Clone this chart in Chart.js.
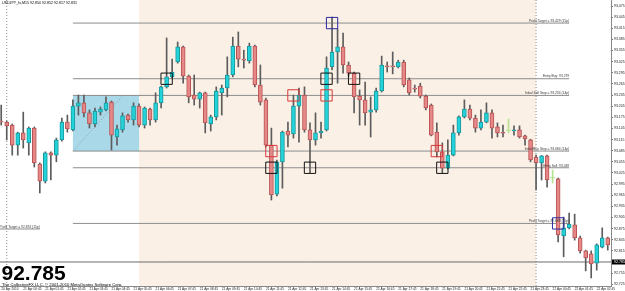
<!DOCTYPE html>
<html>
<head>
<meta charset="utf-8">
<title>USDJPY M15</title>
<script src="https://cdn.jsdelivr.net/npm/chart.js@4.4.0/dist/chart.umd.min.js"></script>
<style>
  html, body { margin: 0; padding: 0; background: #fff; overflow: hidden; }
  #chart { display: block; }
</style>
</head>
<body>
<canvas id="chart" width="625" height="291"></canvas>
<script>
/* USDJPY M15 — breakout box chart (20-22 Apr 2010) */

// ---- data ----
const symbolName = 'USDJPY_fx,M15';
const firstBar = -1;   // bar 0 = 21 Apr 00:00, one bar every 15 min

const opens = [
  93.165, 93.162, 93.154, 93.100, 93.133, 93.106, 93.146, 93.049, 93.003, 93.079,
  93.073, 93.114, 93.162, 93.141, 93.205, 93.214, 93.187, 93.157, 93.189, 93.195,
  93.216, 93.122, 93.141, 93.181, 93.168, 93.205, 93.154, 93.197, 93.168, 93.214,
  93.257, 93.284, 93.324, 93.365, 93.286, 93.235, 93.224, 93.241, 93.157, 93.176,
  93.241, 93.254, 93.289, 93.367, 93.332, 93.327, 93.367, 93.262, 93.222, 93.100,
  92.968, 93.055, 93.138, 93.130, 93.205, 93.235, 93.141, 93.114, 93.133, 93.141,
  93.311, 93.351, 93.365, 93.316, 93.294, 93.232, 93.222, 93.189, 93.195, 93.246,
  93.313, 93.313, 93.311, 93.324, 93.276, 93.254, 93.259, 93.232, 93.208, 93.135,
  93.082, 93.038, 93.073, 93.133, 93.176, 93.197, 93.173, 93.146, 93.162, 93.187,
  93.149, 93.133, 93.138, 93.138, 93.141, 93.125, 93.114, 93.068, 93.052, 93.071,
  93.011, 93.009, 92.855, 92.877, 92.885, 92.850, 92.815, 92.807, 92.782, 92.825,
  92.850
];
const highs = [
  93.208, 93.165, 93.157, 93.135, 93.189, 93.149, 93.149, 93.052, 93.082, 93.082,
  93.119, 93.173, 93.181, 93.222, 93.235, 93.235, 93.195, 93.200, 93.203, 93.230,
  93.219, 93.154, 93.187, 93.184, 93.214, 93.211, 93.203, 93.200, 93.241, 93.259,
  93.389, 93.332, 93.378, 93.367, 93.289, 93.289, 93.243, 93.243, 93.181, 93.257,
  93.262, 93.338, 93.391, 93.405, 93.356, 93.375, 93.370, 93.316, 93.227, 93.146,
  93.060, 93.138, 93.162, 93.235, 93.254, 93.257, 93.160, 93.187, 93.162, 93.338,
  93.445, 93.413, 93.402, 93.324, 93.297, 93.249, 93.270, 93.230, 93.254, 93.340,
  93.324, 93.351, 93.329, 93.329, 93.281, 93.262, 93.267, 93.235, 93.211, 93.160,
  93.106, 93.114, 93.154, 93.179, 93.222, 93.208, 93.181, 93.195, 93.214, 93.195,
  93.160, 93.154, 93.170, 93.152, 93.152, 93.127, 93.116, 93.073, 93.072, 93.073,
  93.033, 93.011, 92.906, 92.917, 92.914, 92.855, 92.817, 92.815, 92.834, 92.877,
  92.852
];
const lows = [
  93.154, 93.114, 93.073, 93.073, 93.092, 93.073, 93.041, 92.971, 92.998, 93.006,
  93.055, 93.111, 93.135, 93.138, 93.181, 93.176, 93.146, 93.149, 93.181, 93.192,
  93.087, 93.100, 93.135, 93.162, 93.154, 93.149, 93.146, 93.154, 93.162, 93.200,
  93.254, 93.281, 93.321, 93.267, 93.214, 93.208, 93.200, 93.133, 93.138, 93.168,
  93.181, 93.230, 93.284, 93.311, 93.308, 93.321, 93.257, 93.208, 93.095, 92.952,
  92.963, 92.984, 93.095, 93.119, 93.108, 93.135, 93.025, 93.100, 93.119, 93.138,
  93.303, 93.267, 93.294, 93.286, 93.187, 93.154, 93.154, 93.122, 93.189, 93.243,
  93.297, 93.292, 93.308, 93.257, 93.235, 93.243, 93.227, 93.195, 93.125, 93.068,
  93.025, 93.036, 93.071, 93.127, 93.173, 93.168, 93.135, 93.141, 93.160, 93.119,
  93.122, 93.122, 93.133, 93.127, 93.119, 93.100, 93.055, 92.979, 93.006, 92.987,
  92.998, 92.839, 92.799, 92.874, 92.844, 92.809, 92.761, 92.742, 92.763, 92.823,
  92.817
];
const closes = [
  93.162, 93.152, 93.100, 93.133, 93.114, 93.146, 93.052, 93.003, 93.079, 93.073,
  93.114, 93.162, 93.144, 93.205, 93.214, 93.187, 93.157, 93.192, 93.197, 93.214,
  93.127, 93.144, 93.179, 93.168, 93.205, 93.154, 93.200, 93.168, 93.214, 93.257,
  93.284, 93.297, 93.365, 93.286, 93.230, 93.224, 93.241, 93.160, 93.176, 93.246,
  93.254, 93.289, 93.367, 93.332, 93.329, 93.367, 93.262, 93.216, 93.100, 92.966,
  93.055, 93.135, 93.127, 93.205, 93.235, 93.141, 93.114, 93.133, 93.138, 93.308,
  93.351, 93.365, 93.316, 93.294, 93.230, 93.222, 93.187, 93.195, 93.246, 93.316,
  93.311, 93.311, 93.324, 93.262, 93.241, 93.251, 93.232, 93.200, 93.127, 93.082,
  93.038, 93.073, 93.133, 93.176, 93.197, 93.173, 93.146, 93.162, 93.187, 93.146,
  93.133, 93.132, 93.138, 93.141, 93.122, 93.117, 93.060, 93.052, 93.071, 93.006,
  93.011, 92.858, 92.877, 92.887, 92.850, 92.815, 92.796, 92.780, 92.831, 92.850,
  92.831
];

// time axis: one label per hour
const tickBars = [-1, 3, 7, 11, 15, 19, 23, 27, 31, 35, 39, 43, 47, 51, 55, 59, 63,
                  67, 71, 75, 79, 83, 87, 91, 95, 99, 103, 107];
const timeLabels = [
  '20 Apr 2010', '21 Apr 00:45', '21 Apr 01:45', '21 Apr 02:45', '21 Apr 03:45',
  '21 Apr 04:45', '21 Apr 05:45', '21 Apr 06:45', '21 Apr 07:45', '21 Apr 08:45',
  '21 Apr 09:45', '21 Apr 10:45', '21 Apr 11:45', '21 Apr 12:45', '21 Apr 13:45',
  '21 Apr 14:45', '21 Apr 15:45', '21 Apr 16:45', '21 Apr 17:45', '21 Apr 18:45',
  '21 Apr 19:45', '21 Apr 20:45', '21 Apr 21:45', '21 Apr 22:45', '21 Apr 23:45',
  '22 Apr 00:45', '22 Apr 01:45', '22 Apr 02:45'
];
const priceTicks = [
  93.475, 93.445, 93.415, 93.385, 93.355, 93.325, 93.295, 93.265, 93.235, 93.205,
  93.175, 93.145, 93.115, 93.085, 93.055, 93.025, 92.995, 92.965, 92.935, 92.905,
  92.875, 92.845, 92.815, 92.785, 92.755, 92.725
];

// breakout levels
const levelPrices = [93.429, 93.279, 93.234, 93.084, 93.039, 92.889];
const levelTexts = [
  'Profit Target = 93.429 (15p)', 'Entry Buy: 93.279', 'Initial Sell Stop = 93.234 (14p)',
  'Initial Buy Stop = 93.084 (14p)', 'Entry Sell: 93.039', 'Profit Target = 92.889 (15p)'
];
const levelFrom = 12, levelTo = 102;
const prevTarget = 92.874, prevTargetText = 'Profit Target = 92.874 (15p)', prevTo = 6;
const bidPrice = 92.785;

// range box (03:00-06:00) and session (06:00-24:00)
const boxFrom = 12, boxTo = 24, boxHigh = 93.234, boxLow = 93.084;
const sessionFrom = 24, sessionTo = 96;
const daySeparators = [0, 96];
const trendBars = [12, 21], trendPrices = [93.084, 93.232];

// hit markers
const entryHitBars = [29, 58, 63, 48, 55, 79];
const entryHitPrices = [93.279, 93.279, 93.279, 93.039, 93.039, 93.039];
const stopHitBars = [52, 58, 48, 78];
const stopHitPrices = [93.234, 93.234, 93.084, 93.084];
const targetHitBars = [59, 100];
const targetHitPrices = [93.429, 92.889];

// ---- chart ----
const Y_MIN = 92.7203, Y_MAX = 93.4912;
const X_MIN = -1.22, X_MAX = 109.59;

const BULL = '#22d3da', BULL_EDGE = '#1a979c';
const BEAR = '#e68888', BEAR_EDGE = '#b85252';
const WICK = '#5c5c5c', DOJI = '#b6e290';
const LEVEL = '#8c8c8c';
const FONT = "'Liberation Sans', Arial, sans-serif";

const bars = opens.map((_, k) => firstBar + k);
const isDoji = k => opens[k] === closes[k];
const isUp = k => closes[k] > opens[k];

const bodyFill = bars.map((_, k) => isDoji(k) ? DOJI : (isUp(k) ? BULL : BEAR));
const bodyEdge = bars.map((_, k) => isDoji(k) ? DOJI : (isUp(k) ? BULL_EDGE : BEAR_EDGE));
const wickColor = bars.map((_, k) => isDoji(k) ? DOJI : WICK);

function hLine(price, from, to, color, dash) {
  return {
    type: 'line',
    data: [{ x: from, y: price }, { x: to, y: price }],
    borderColor: color, borderWidth: 1, borderDash: dash || [],
    pointRadius: 0, fill: false, order: 5
  };
}

function markers(xs, ys, color) {
  return {
    type: 'line',
    data: xs.map((b, i) => ({ x: b, y: ys[i] })),
    showLine: false, pointStyle: 'rect', pointRadius: 8,
    pointBorderColor: color, pointBackgroundColor: 'rgba(0,0,0,0)',
    pointBorderWidth: 1, order: 0
  };
}

const datasets = [
  markers(entryHitBars, entryHitPrices, '#111'),
  markers(stopHitBars, stopHitPrices, '#d83a3a'),
  markers(targetHitBars, targetHitPrices, '#2a2aa0'),
  {
    type: 'bar',
    data: bars.map((b, k) => ({ x: b, y: [opens[k], closes[k]] })),
    backgroundColor: bodyFill, borderColor: bodyEdge, borderWidth: 1,
    borderSkipped: false, barThickness: 4, minBarLength: 1, grouped: false, order: 1
  },
  {
    type: 'bar',
    data: bars.map((b, k) => ({ x: b, y: [lows[k], highs[k]] })),
    backgroundColor: wickColor, borderWidth: 0,
    barThickness: 1, grouped: false, order: 2
  },
  {
    type: 'line',
    data: trendBars.map((b, i) => ({ x: b, y: trendPrices[i] })),
    borderColor: '#8a9aa8', borderWidth: 1, borderDash: [1, 2],
    pointRadius: 0, fill: false, order: 4
  },
  hLine(bidPrice, X_MIN - 1, X_MAX + 1, '#6c6c6c'),
  hLine(prevTarget, X_MIN - 1, prevTo, LEVEL)
];
levelPrices.forEach(p => datasets.push(hLine(p, levelFrom, levelTo, LEVEL)));
daySeparators.forEach(b => datasets.push({
  type: 'line',
  data: [{ x: b, y: Y_MIN }, { x: b, y: Y_MAX }],
  borderColor: '#8c8c8c', borderWidth: 1, borderDash: [1, 2],
  pointRadius: 0, fill: false, order: 6
}));

const overlay = {
  id: 'overlay',
  beforeDatasetsDraw(chart) {
    const { ctx, chartArea: a, scales: { x, y } } = chart;
    ctx.save();
    const s0 = x.getPixelForValue(sessionFrom), s1 = x.getPixelForValue(sessionTo);
    ctx.fillStyle = '#faf0e6';
    ctx.fillRect(s0, a.top, s1 - s0, a.bottom - a.top);
    const b0 = x.getPixelForValue(boxFrom), b1 = x.getPixelForValue(boxTo);
    const bt = y.getPixelForValue(boxHigh), bb = y.getPixelForValue(boxLow);
    ctx.fillStyle = '#a9d8e8';
    ctx.fillRect(b0, bt, b1 - b0, bb - bt);
    ctx.restore();
  },
  afterDatasetsDraw(chart) {
    const { ctx, chartArea: a, scales: { x, y } } = chart;
    ctx.save();
    ctx.beginPath();
    ctx.rect(a.left, a.top, a.right - a.left, a.bottom - a.top);
    ctx.clip();

    // level captions sit on their line, right aligned
    ctx.font = '3.3px ' + FONT;
    ctx.fillStyle = '#3a3a3a';
    ctx.textAlign = 'right';
    ctx.textBaseline = 'bottom';
    const xr = x.getPixelForValue(levelTo);
    levelPrices.forEach((p, i) => ctx.fillText(levelTexts[i], xr, y.getPixelForValue(p) - 0.5));
    ctx.fillText(prevTargetText, x.getPixelForValue(prevTo), y.getPixelForValue(prevTarget) - 0.5);

    // header: symbol + last bar OHLC
    const n = opens.length - 1;
    ctx.textAlign = 'left';
    ctx.textBaseline = 'top';
    ctx.font = '3.6px ' + FONT;
    ctx.fillStyle = '#000';
    ctx.fillText(symbolName + ' ' + [opens[n], highs[n], lows[n], closes[n]]
      .map(v => v.toFixed(3)).join(' '), 2, 1.5);

    // big bid + copyright
    ctx.textBaseline = 'alphabetic';
    ctx.font = 'bold 21px ' + FONT;
    ctx.fillText(bidPrice.toFixed(3), 1.5, 280);
    ctx.font = '4.2px ' + FONT;
    ctx.fillText('The CollectiveFX LLC, \u00a9 2001-2010 MetaQuotes Software Corp.', 2, 285.5);
    ctx.restore();
  },
  afterDraw(chart) {
    const { ctx, chartArea: a, scales: { y } } = chart;
    const yp = y.getPixelForValue(bidPrice);
    ctx.save();
    ctx.fillStyle = '#000';
    ctx.fillRect(a.right + 1, yp - 2.5, chart.width - a.right - 1, 5);
    ctx.fillStyle = '#fff';
    ctx.font = '3.6px ' + FONT;
    ctx.textBaseline = 'middle';
    ctx.fillText(bidPrice.toFixed(3), a.right + 3, yp);
    ctx.restore();
  }
};

new Chart(document.getElementById('chart'), {
  type: 'bar',
  data: { datasets },
  plugins: [overlay],
  options: {
    responsive: false,
    animation: false,
    events: [],
    layout: { padding: 0, autoPadding: false },
    plugins: { legend: { display: false }, tooltip: { enabled: false } },
    scales: {
      x: {
        type: 'linear', position: 'bottom', offset: false,
        min: X_MIN, max: X_MAX,
        grid: { drawOnChartArea: false, offset: false, tickLength: 1, color: '#777' },
        border: { display: true, color: '#888' },
        ticks: {
          autoSkip: false, maxRotation: 0, minRotation: 0, align: 'start', padding: 0,
          color: '#222', font: { size: 3.2, family: FONT },
          callback: (v, i) => timeLabels[i]
        },
        afterBuildTicks: s => { s.ticks = tickBars.map(v => ({ value: v })); },
        afterFit: s => {
          s.height = 5;
          s.paddingLeft = 0; s.paddingRight = 0; s.paddingTop = 0; s.paddingBottom = 0;
        }
      },
      y: {
        type: 'linear', position: 'right', beginAtZero: false,
        min: Y_MIN, max: Y_MAX,
        grid: { drawOnChartArea: false, tickLength: 2, color: '#777' },
        border: { display: true, color: '#888' },
        ticks: {
          autoSkip: false, padding: 1, color: '#222',
          font: { size: 3.5, family: FONT },
          callback: v => v.toFixed(3)
        },
        afterBuildTicks: s => { s.ticks = priceTicks.map(v => ({ value: v })); },
        afterFit: s => {
          s.width = 14;
          s.paddingLeft = 0; s.paddingRight = 0; s.paddingTop = 0; s.paddingBottom = 0;
        }
      }
    }
  }
});
</script>
</body>
</html>
